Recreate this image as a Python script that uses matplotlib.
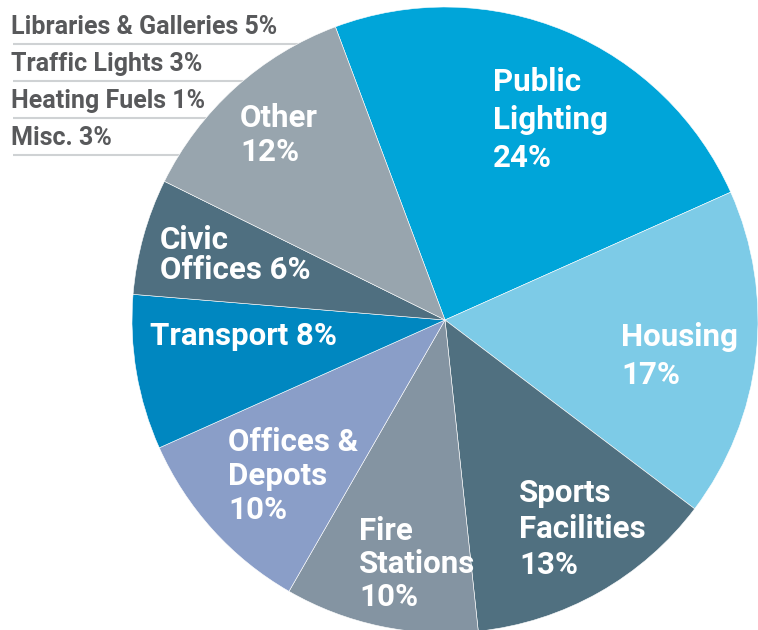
import matplotlib
matplotlib.use("Agg")
import matplotlib.pyplot as plt

plt.rcParams["font.family"] = ["Roboto", "DejaVu Sans"]

# ---------------- Data ----------------
categories = ["Public Lighting", "Housing", "Sports Facilities", "Fire Stations",
              "Offices & Depots", "Transport", "Civic Offices", "Other"]
shares = [24, 17, 13, 10, 10, 8, 6, 12]
colors = ["#00a5d9", "#7dcbe7", "#507080", "#8494a2",
          "#8a9ec8", "#0087c0", "#4f6f80", "#98a5ae"]
slice_labels = ["Public\nLighting\n24%", "Housing\n17%", "Sports\nFacilities\n13%",
                "Fire\nStations\n10%", "Offices &\nDepots\n10%", "Transport 8%",
                "Civic\nOffices 6%", "Other\n12%"]
# where each label sits (left x, centre y of the block) in pixels, and its line spacing
label_pos = [(493, 120), (621, 356), (519, 529), (359, 564),
             (228, 476), (150, 336), (160, 255), (240, 135)]
label_spacing = [1.32, 1.34, 1.26, 1.12, 1.15, 1.0, 1.04, 1.13]

other_items = ["Libraries & Galleries 5%", "Traffic Lights 3%",
               "Heating Fuels 1%", "Misc. 3%"]

W, H = 758, 630
fig = plt.figure(figsize=(W / 100, H / 100), dpi=100)
ax = fig.add_axes([0, 0, 1, 1])

# ---------------- Breakdown of "Other" ----------------
for i, txt in enumerate(other_items):
    y = 27 + 37 * i
    ax.text(11, H - y, txt, ha="left", va="center", fontsize=18,
            fontweight="bold", color="#58595b", zorder=1)
    ax.plot([13, 330], [H - (y + 17), H - (y + 17)], color="#cfd2d4",
            lw=1.5, zorder=1, solid_capstyle="butt")

# ---------------- Pie ----------------
ax.pie(shares, colors=colors, startangle=110.5, counterclock=False,
       center=(445, H - 320), radius=313,
       wedgeprops=dict(edgecolor="white", linewidth=0.4, zorder=2))
ax.set_xlim(0, W)
ax.set_ylim(0, H)
ax.set_aspect("equal")
ax.axis("off")

for lab, (x, y), ls in zip(slice_labels, label_pos, label_spacing):
    ax.text(x, H - y, lab, ha="left", va="center", fontsize=22.5,
            fontweight="bold", color="white", linespacing=ls, zorder=3)

fig.savefig("out.png", dpi=100)
